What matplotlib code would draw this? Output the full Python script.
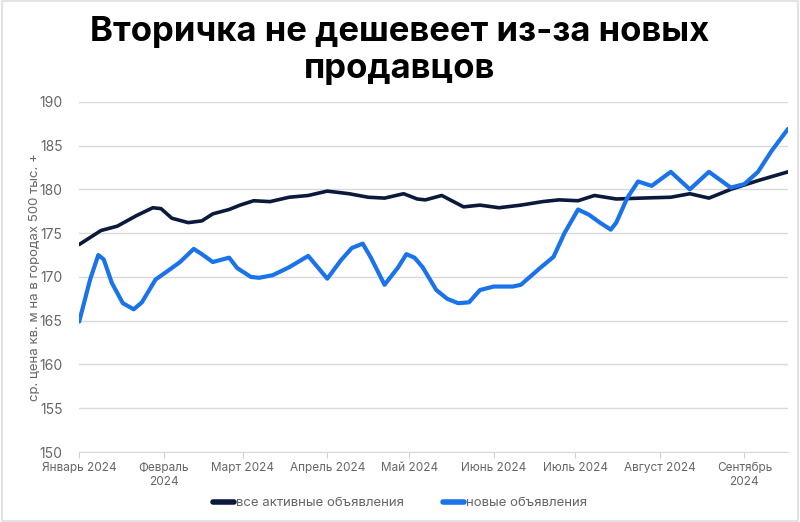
import matplotlib
matplotlib.use("Agg")
import matplotlib.pyplot as plt
import pandas as pd

# дни от 1 января 2024 и значения
days_all = [0, 8, 14, 21, 27, 30, 34, 40, 45, 49, 55, 59, 64, 70, 77, 84, 91, 99,
            106, 112, 119, 124, 127, 133, 141, 147, 154, 162, 170, 176, 183, 189,
            197, 206, 217, 224, 231, 239, 249, 260]
price_all = [173.7, 175.3, 175.8, 177.0, 177.9, 177.8, 176.7, 176.2, 176.4, 177.2,
             177.7, 178.2, 178.7, 178.6, 179.1, 179.3, 179.8, 179.5, 179.1, 179.0,
             179.5, 178.9, 178.8, 179.3, 178.0, 178.2, 177.9, 178.2, 178.6, 178.8,
             178.7, 179.3, 178.9, 179.0, 179.1, 179.5, 179.0, 180.0, 181.0, 182.0]

days_new = [0, 4, 7, 9, 12, 16, 20, 23, 28, 33, 37, 42, 45, 49, 55, 58, 63, 66,
            71, 77, 84, 91, 96, 100, 104, 107, 112, 117, 120, 123, 126, 131, 135,
            139, 143, 147, 152, 159, 162, 169, 174, 178, 183, 187, 191, 195, 197,
            201, 205, 210, 217, 224, 231, 239, 244, 249, 254, 260]
price_new = [164.9, 169.7, 172.5, 172.0, 169.3, 167.0, 166.3, 167.1, 169.7, 170.8,
             171.7, 173.2, 172.6, 171.7, 172.2, 171.0, 170.0, 169.9, 170.2, 171.1,
             172.4, 169.8, 171.9, 173.3, 173.8, 172.2, 169.1, 171.1, 172.6, 172.2,
             171.1, 168.5, 167.5, 167.0, 167.1, 168.5, 168.9, 168.9, 169.1, 171.0,
             172.3, 175.0, 177.7, 177.1, 176.2, 175.4, 176.2, 179.0, 180.9, 180.4,
             182.0, 180.0, 182.0, 180.2, 180.6, 182.0, 184.4, 186.9]

month_labels = ["Январь 2024", "Февраль\n2024", "Март 2024", "Апрель 2024", "Май 2024",
                "Июнь 2024", "Июль 2024", "Август 2024", "Сентябрь\n2024"]

start = pd.Timestamp("2024-01-01")
dates_all = start + pd.to_timedelta(days_all, unit="D")
dates_new = start + pd.to_timedelta(days_new, unit="D")
month_ticks = pd.date_range("2024-01-01", periods=len(month_labels), freq="MS")

plt.rcParams["font.family"] = ["Inter", "DejaVu Sans"]

fig = plt.figure(figsize=(8, 5.22), dpi=100)
ax = fig.add_axes([0.099, 0.134, 0.886, 0.671])

grey = "#666666"
ax.plot(dates_all, price_all, color="#0b1a3a", lw=2.6, solid_joinstyle="round",
        solid_capstyle="round", label="все активные объявления", zorder=3)
ax.plot(dates_new, price_new, color="#1a73e8", lw=3.0, solid_joinstyle="round",
        solid_capstyle="round", label="новые объявления", zorder=3)

ax.set_xlim(start, start + pd.Timedelta(days=260))
ax.set_ylim(150, 190)
ax.set_yticks(range(150, 191, 5))
ax.yaxis.grid(True, color="#d9d9d9", lw=1)
ax.set_axisbelow(True)
ax.set_xticks(month_ticks)
ax.set_xticklabels(month_labels, fontsize=8.5, color=grey, linespacing=1.3)
ax.tick_params(axis="y", length=0, labelsize=10, colors=grey, pad=12)
ax.tick_params(axis="x", length=4, color="#d0d0d0", pad=3)
for side in ["top", "right", "left"]:
    ax.spines[side].set_visible(False)
ax.spines["bottom"].set_color("#d9d9d9")

ax.set_ylabel("ср. цена кв. м на в городах 500 тыс. +", fontsize=9.5, color=grey, labelpad=-1)

fig.text(0.5, 0.903, "Вторичка не дешевеет из-за новых\nпродавцов", ha="center", va="center",
         fontsize=25, fontweight="bold", color="black", linespacing=1.22)

leg = fig.legend(loc="center", bbox_to_anchor=(0.5, 0.036), ncol=2, frameon=False,
                 fontsize=9.5, handlelength=1.6, handletextpad=0.1, columnspacing=3)
for t in leg.get_texts():
    t.set_color(grey)
for h in leg.get_lines():
    h.set_linewidth(4)

fig.patches.append(plt.Rectangle((0.002, 0.002), 0.996, 0.996, transform=fig.transFigure,
                                 fill=False, edgecolor="#e3e3e3", lw=1.5))

fig.savefig("out.png", dpi=100)
